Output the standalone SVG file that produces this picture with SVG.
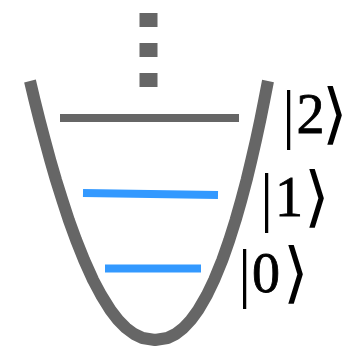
<svg xmlns="http://www.w3.org/2000/svg" width="348" height="347" viewBox="0 0 348 347">
  <style>
    .well { fill: none; stroke: #666666; stroke-width: 12; stroke-linejoin: round; }
    .lvl { stroke-width: 8; fill: none; }
    .gray { stroke: #666666; }
    .blue { stroke: #3399ff; }
    .ket { font-family: "Liberation Serif", "DejaVu Serif", serif; fill: #000000; }
    .dig { font-size: 56px; stroke: #000000; stroke-width: 0.8; }
    .br { font-size: 66px; }
  </style>
  <rect width="348" height="347" fill="#ffffff"/>
  <g id="well">
    <path class="well" d="M30,81 L34.5,100 L39.5,120 L44.8,140 L50.2,160 L56,180 L62.3,200 L68.8,220 L76.1,240 L84.1,260 L93.1,280 L101.1,295 L110.4,310 L118.1,320 L126,328 L134.1,334 L142.5,338 L155,340 L167.5,338 L175.7,334 L183.4,328 L190.9,320 L198.2,310 L206.9,295 L214.1,280 L222.3,260 L229.3,240 L235.6,220 L241.3,200 L246.6,180 L251.4,160 L256,140 L260.3,120 L264.3,100 L268,81"/>
  </g>
  <g id="dots">
    <line x1="148.5" y1="13" x2="148.5" y2="87" stroke="#666666" stroke-width="18" stroke-dasharray="14 16"/>
  </g>
  <g id="level2">
    <line class="lvl gray" x1="60" y1="118" x2="239" y2="118"/>
    <text class="ket"><tspan class="br" x="282" y="136">|</tspan><tspan class="dig" x="296.5" y="133">2</tspan><tspan class="br" x="322" y="136">⟩</tspan></text>
  </g>
  <g id="level1">
    <line class="lvl blue" x1="83" y1="193" x2="218" y2="195"/>
    <text class="ket"><tspan class="br" x="260" y="219">|</tspan><tspan class="dig" x="275" y="216">1</tspan><tspan class="br" x="304" y="219">⟩</tspan></text>
  </g>
  <g id="level0">
    <line class="lvl blue" x1="105" y1="268.5" x2="201" y2="268.5"/>
    <text class="ket"><tspan class="br" x="238" y="295">|</tspan><tspan class="dig" x="252" y="292">0</tspan><tspan class="br" x="283" y="295">⟩</tspan></text>
  </g>
</svg>
